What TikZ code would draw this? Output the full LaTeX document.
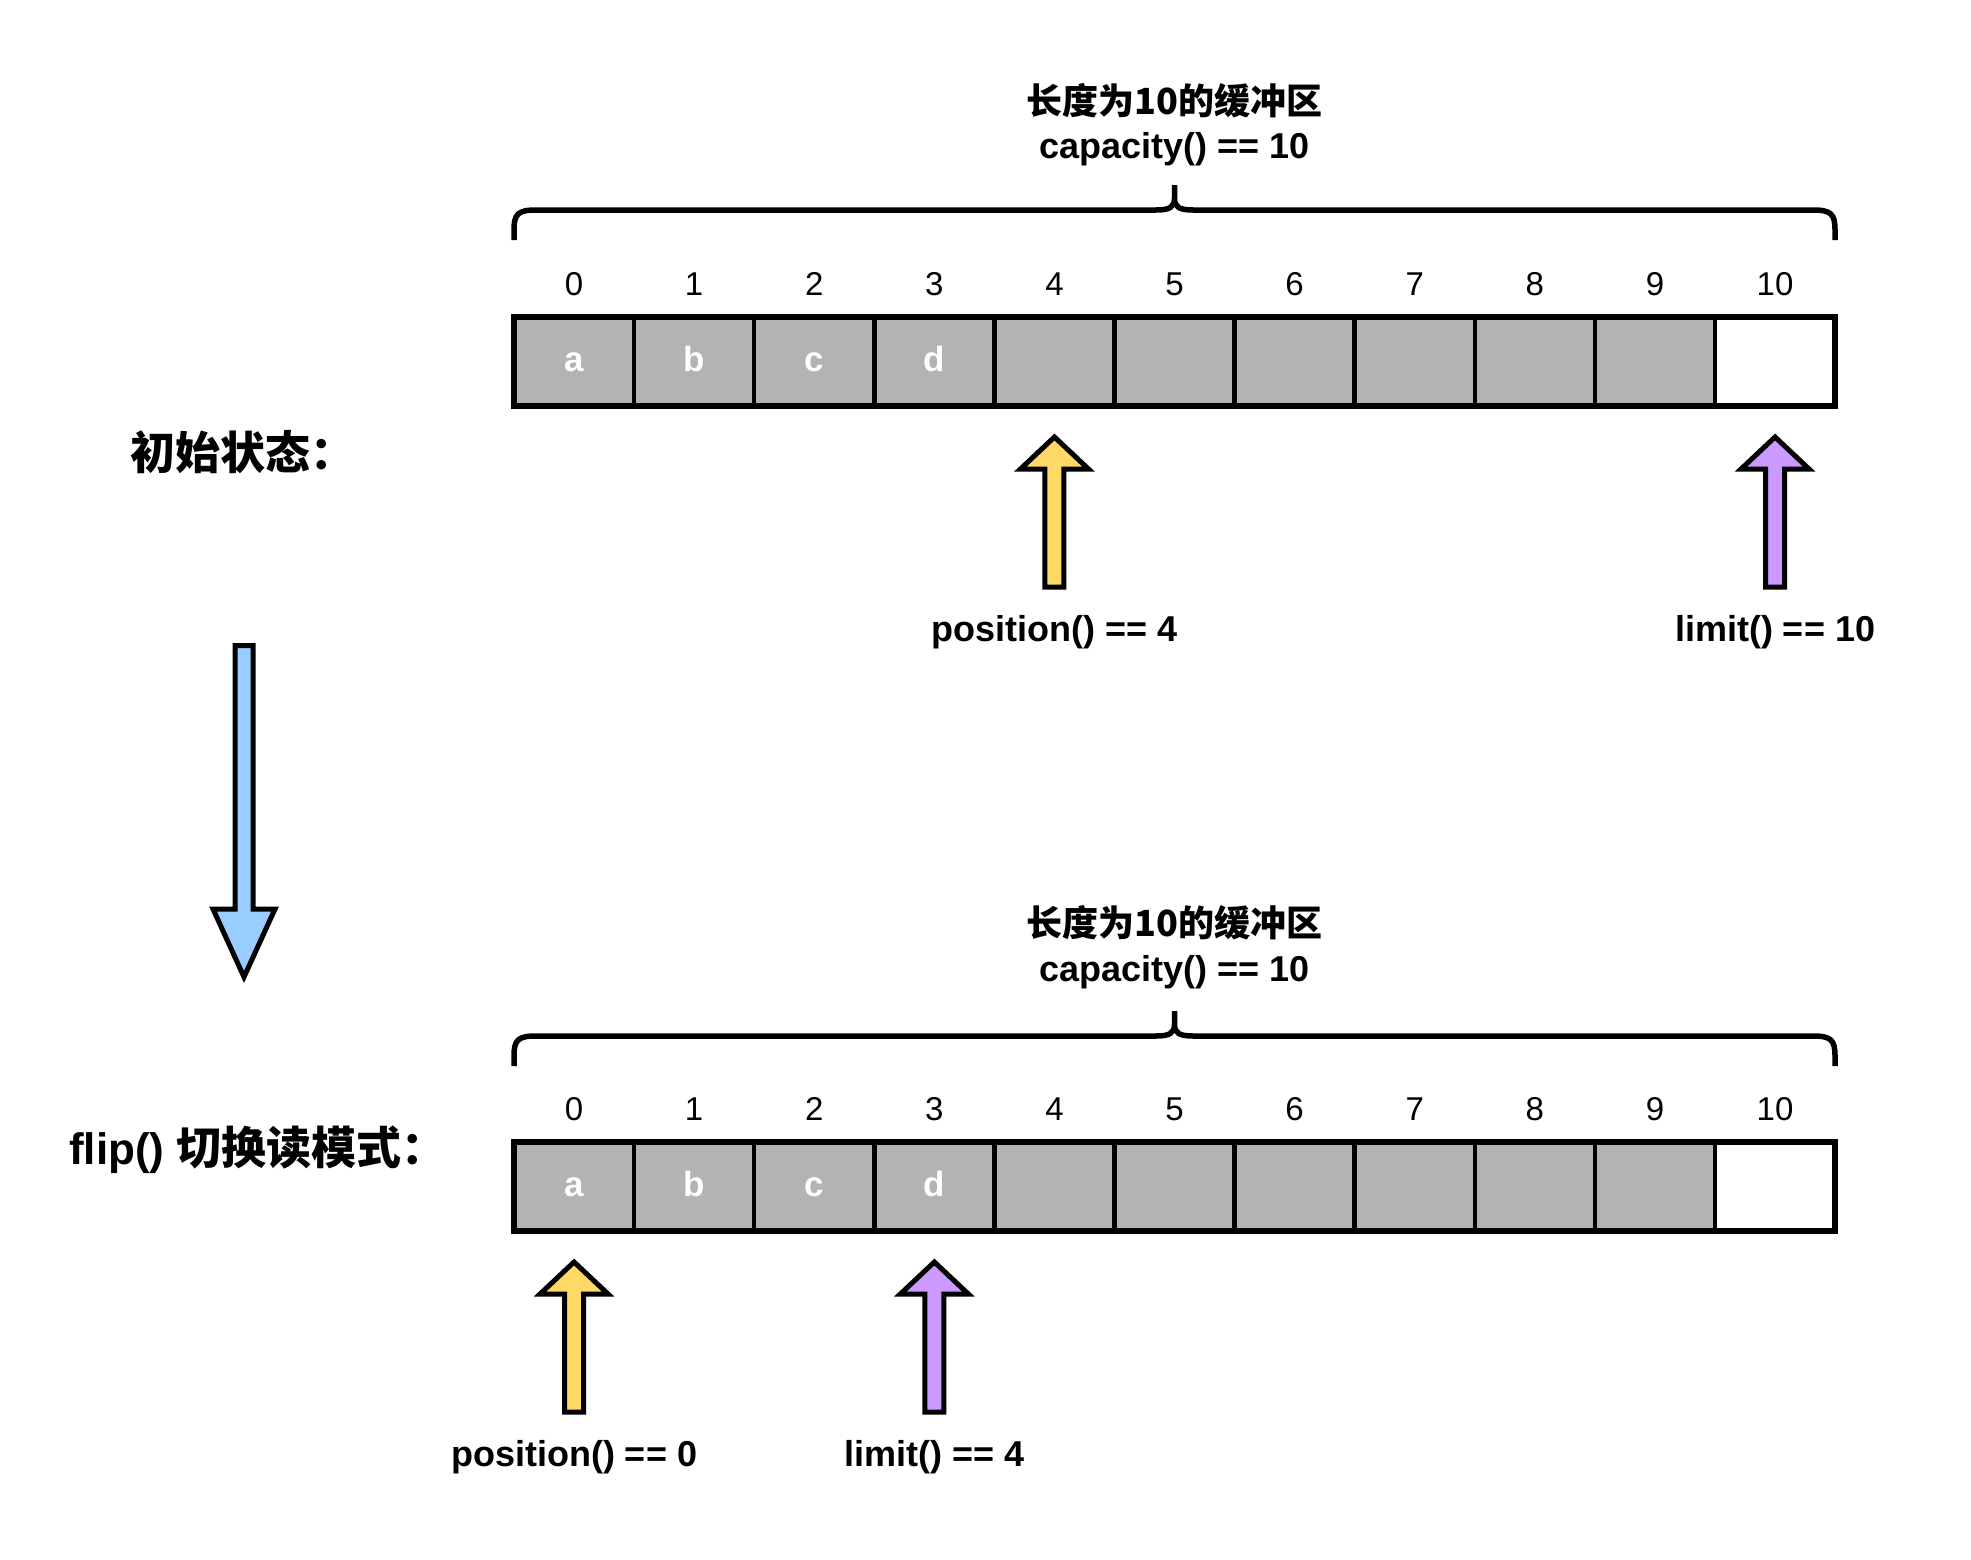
\documentclass[tikz,border=0pt]{standalone}
\usepackage{fontspec}
\setmainfont{Liberation Sans}
\newfontfamily\cjk{Noto Sans CJK SC}
\definecolor{cellgray}{HTML}{B3B3B3}
\definecolor{posyellow}{HTML}{FFD966}
\definecolor{limpurple}{HTML}{CC99FF}
\definecolor{flowblue}{HTML}{99CCFF}
\newcommand{\UpArr}[3]{%
  \draw[blockarrow,fill=#3] (#1,#2) -- ++(34,32) -- ++(-24.5,0) -- ++(0,118) -- ++(-19,0) -- ++(0,-118) -- ++(-24.5,0) -- cycle;}
\newcommand{\BufBrace}{%
  \draw[bracel] (514,240) -- (514,230) .. controls (514,214) and (518,210) .. (536,210) -- (1156,210) .. controls (1170,210) and (1174.5,207) .. (1174.5,198) -- (1174.5,185)
     (1174.5,198) .. controls (1174.5,207) and (1179,210) .. (1193,210) -- (1813,210) .. controls (1831,210) and (1835,214) .. (1835,230) -- (1835,240);}
\begin{document}
\begin{tikzpicture}[x=1pt,y=-1pt,
  cell/.style={draw,line width=4.5pt,minimum width=120.1pt,minimum height=89pt,inner sep=0pt,outer sep=0pt,
    text height=20pt,text depth=0pt,font=\fontsize{35}{42}\selectfont\bfseries,text=white},
  idx/.style={anchor=base,font=\fontsize{33}{40}\selectfont,inner sep=0pt},
  ptr/.style={anchor=base,font=\fontsize{36}{43}\selectfont\bfseries,inner sep=0pt},
  ttl/.style={font=\cjk\fontsize{36}{43}\selectfont\bfseries,inner sep=0pt},
  captxt/.style={font=\fontsize{36}{43}\selectfont\bfseries,inner sep=0pt},
  side/.style={font=\fontsize{44}{52}\selectfont\bfseries,inner sep=0pt},
  sidecjk/.style={font=\cjk\fontsize{45}{54}\selectfont\bfseries,inner sep=0pt},
  outerbox/.style={draw,line width=5.5pt},
  bracel/.style={draw,line width=5.5pt,line join=round,line cap=butt},
  blockarrow/.style={draw,line width=5pt,line join=miter},
]
\useasboundingbox[fill=white] (0,0) rectangle (1971,1560);

% cells and indices
\foreach \i/\l/\f in {0/a/cellgray,1/b/cellgray,2/c/cellgray,3/d/cellgray,4//cellgray,5//cellgray,6//cellgray,7//cellgray,8//cellgray,9//cellgray,10//white}{
  \node[cell,fill=\f] (t\i) at ({574.05+120.1*\i},361.5) {\l};
  \node[idx] (ti\i) at ({574.05+120.1*\i},295.5) {\i};
  \node[cell,fill=\f] (b\i) at ({574.05+120.1*\i},1186.5) {\l};
  \node[idx] (bi\i) at ({574.05+120.1*\i},1120.5) {\i};
}
\draw[outerbox] (t0.north west) rectangle (t10.south east);
\draw[outerbox] (b0.north west) rectangle (b10.south east);

% braces
\BufBrace
\begin{scope}[shift={(0,826)}]
\BufBrace
\end{scope}

% titles
\node[ttl] (title1) at (1174.5,100.6) {长度为10的缓冲区};
\node[captxt] (cap1) at (1174.5,149.5) {capacity() == 10};
\node[ttl] (title2) at (1174.5,923) {长度为10的缓冲区};
\node[captxt] (cap2) at (1174.5,972.5) {capacity() == 10};

% pointer arrows
\UpArr{1054.45}{437}{posyellow}
\UpArr{1775.05}{437}{limpurple}
\UpArr{574.05}{1262}{posyellow}
\UpArr{934.35}{1262}{limpurple}

\node[ptr] (pos1) at (1054.45,641) {position() == 4};
\node[ptr] (lim1) at (1775.05,641) {limit() == 10};
\node[ptr] (pos2) at (574.05,1466) {position() == 0};
\node[ptr] (lim2) at (934.35,1466) {limit() == 4};

% side labels
\node[sidecjk] (state1) at (243,452) {初始状态：};
\node[side] (state2) at (258,1150) {flip() {\cjk\fontsize{45}{54}\selectfont 切换读模式：}};

% transition arrow
\draw[blockarrow,fill=flowblue] (235,645.5) -- (253,645.5) -- (253,909) -- (275,909) -- (244,977) -- (213,909) -- (235,909) -- cycle;
\end{tikzpicture}
\end{document}
